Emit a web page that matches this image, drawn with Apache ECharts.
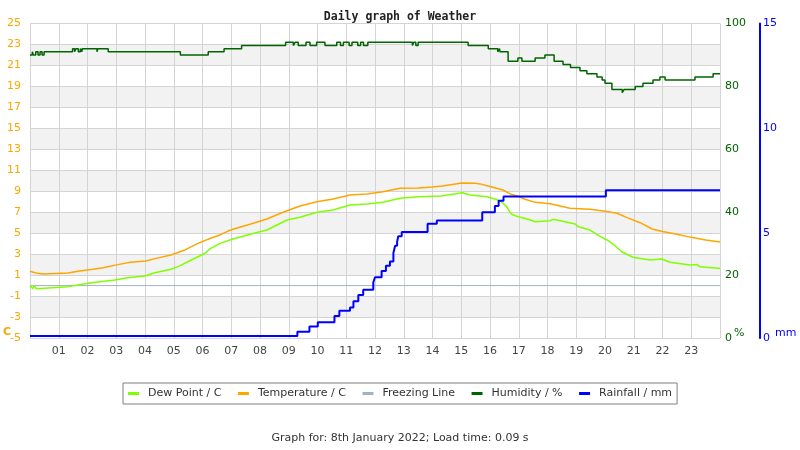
<!DOCTYPE html>
<html>
<head>
<meta charset="utf-8">
<script src="https://cdn.jsdelivr.net/npm/echarts@6/dist/echarts.min.js"></script>
<style>html,body{margin:0;padding:0;background:#fff}#c{width:800px;height:450px}</style>
</head>
<body>
<div id="c"></div>
<script>
// ---- data (time in hours of day) ----
const hourLabels = ['01','02','03','04','05','06','07','08','09','10','11','12','13','14','15','16','17','18','19','20','21','22','23'];
const tempTicks = [-5,-3,-1,1,3,5,7,9,11,13,15,17,19,21,23,25];
const humidityTicks = [0,20,40,60,80,100];
const rainTicks = [0,5,10,15];

const temperature = [[0,1.36],[0.21,1.2],[0.45,1.1],[1.32,1.2],[1.67,1.36],[2.19,1.55],[2.54,1.7],[3.06,2.0],[3.48,2.22],[4.03,2.35],[4.35,2.57],[4.9,2.92],[5.39,3.4],[5.84,4.03],[6.3,4.54],[6.61,4.83],[6.89,5.2],[7.06,5.37],[7.65,5.85],[8.24,6.35],[8.8,6.99],[9.39,7.59],[9.98,8.0],[10.54,8.26],[11.13,8.64],[11.72,8.74],[12.28,8.96],[12.87,9.28],[13.5,9.3],[14.0,9.4],[14.35,9.5],[14.8,9.7],[15.0,9.78],[15.5,9.75],[15.65,9.7],[16.0,9.45],[16.45,9.12],[16.7,8.74],[16.95,8.55],[17.22,8.23],[17.57,7.94],[18.09,7.81],[18.78,7.37],[19.48,7.28],[20.0,7.1],[20.42,6.9],[20.77,6.48],[21.22,6.0],[21.64,5.4],[22.0,5.15],[22.5,4.9],[23.0,4.6],[23.5,4.35],[24,4.15]];

const dewPoint = [[0,0.0],[0.1,-0.3],[0.15,0.0],[0.22,-0.3],[0.28,-0.16],[1.32,-0.1],[1.67,0.06],[2.02,0.22],[2.42,0.37],[2.95,0.53],[3.41,0.75],[3.99,0.91],[4.34,1.23],[4.91,1.55],[5.22,1.9],[5.61,2.44],[5.88,2.8],[6.09,3.08],[6.26,3.5],[6.61,4.03],[7.06,4.45],[7.65,4.89],[8.24,5.3],[8.94,6.26],[9.39,6.51],[9.98,6.99],[10.54,7.21],[11.13,7.69],[11.72,7.78],[12.28,7.94],[12.87,8.33],[13.5,8.48],[14.3,8.55],[14.8,8.75],[15.05,8.86],[15.3,8.64],[15.9,8.48],[16.2,8.23],[16.4,8.0],[16.58,7.53],[16.7,6.95],[16.81,6.73],[17.05,6.51],[17.33,6.32],[17.57,6.09],[18.09,6.19],[18.2,6.32],[18.61,6.09],[18.96,5.87],[19.07,5.62],[19.48,5.3],[19.83,4.7],[20.07,4.35],[20.35,3.8],[20.58,3.23],[20.97,2.7],[21.56,2.44],[21.97,2.54],[22.26,2.22],[22.96,1.96],[23.2,2.0],[23.3,1.8],[23.94,1.65],[24,1.65]];

const freezing = [[0,0],[24,0]];

const humidity = [[0,90],[0.08,91],[0.12,90],[0.2,91],[0.28,90],[0.35,91],[0.42,90],[0.49,91],[1.48,92],[1.55,91],[1.6,92],[1.68,91],[1.75,92],[1.8,91],[1.82,92],[2.33,91],[2.36,92],[2.72,91],[5.23,90],[6.2,91],[6.75,92],[7.36,93],[8.89,94],[9.16,93],[9.22,94],[9.33,93],[9.6,94],[9.74,93],[9.97,94],[10.26,93],[10.67,94],[10.8,93],[10.9,94],[11.1,93],[11.2,94],[11.4,93],[11.5,94],[11.6,93],[11.75,94],[13.3,93],[13.35,94],[13.42,93],[13.5,94],[15.24,93],[15.94,92],[16.27,91],[16.33,92],[16.35,91],[16.63,88],[16.97,89],[17.11,88],[17.57,89],[17.91,90],[18.23,88],[18.54,87],[18.8,86],[19.13,85],[19.37,84],[19.72,83],[19.9,82],[20.0,81],[20.24,79],[20.6,78],[20.66,79],[21.05,80],[21.32,81],[21.67,82],[21.91,83],[22.09,82],[23.13,83],[23.76,84],[24,84]];

const rainfall = [[0,0.1],[9.3,0.3],[9.72,0.55],[10.01,0.75],[10.59,1.05],[10.76,1.3],[11.13,1.45],[11.25,1.75],[11.42,2.05],[11.59,2.3],[11.94,2.65],[12.0,2.9],[12.23,3.2],[12.38,3.45],[12.52,3.65],[12.64,4.05],[12.7,4.4],[12.77,4.6],[12.81,4.85],[12.93,5.05],[13.83,5.45],[14.15,5.6],[15.73,6.0],[16.17,6.3],[16.3,6.55],[16.47,6.75],[20.03,7.05],[24,7.05]];

const seriesNames = ['Dew Point / C','Temperature / C','Freezing Line','Humidity / %','Rainfall / mm'];
const seriesColors = ['#7fff00','#ffa500','#a2b2c6','#006400','#0000ff'];

// ---- chart ----
const FONT = 'DejaVu Sans';
const chart = echarts.init(document.getElementById('c'), null, {renderer:'canvas'});

chart.setOption({
  animation: false,
  backgroundColor: '#ffffff',
  title: {
    text: 'Daily graph of Weather',
    left: 'center', top: 6,
    textStyle: {fontFamily: 'DejaVu Sans Mono', fontWeight: 'bold', fontSize: 11.5, color: '#222'}
  },
  grid: {left: 30, right: 80, top: 23.5, bottom: 112, containLabel: false},
  legend: {
    left: 123, top: 383,
    orient: 'horizontal',
    icon: 'rect', itemWidth: 11, itemHeight: 3, itemGap: 16.5,
    borderColor: '#808080', borderWidth: 1, borderRadius: 0,
    padding: [5, 5, 5, 5],
    selectedMode: false,
    textStyle: {fontFamily: FONT, fontSize: 11, color: '#333', padding: [0, 0, 0, 4]},
    data: seriesNames
  },
  xAxis: {
    type: 'value', min: 0, max: 24, interval: 1,
    axisLine: {show: false}, axisTick: {show: false},
    axisLabel: {
      margin: 8, fontFamily: FONT, fontSize: 11, color: '#444',
      formatter: v => (v >= 1 && v <= 23) ? hourLabels[v - 1] : ''
    },
    splitLine: {show: true, lineStyle: {color: '#d4d4d4', width: 1}}
  },
  yAxis: [
    {
      type: 'value', min: tempTicks[0], max: tempTicks[tempTicks.length - 1], interval: 2,
      position: 'left',
      axisLine: {show: false}, axisTick: {show: false},
      axisLabel: {margin: 9, fontFamily: FONT, fontSize: 11, color: '#ffa500'},
      splitLine: {show: true, lineStyle: {color: '#d4d4d4', width: 1}},
      splitArea: {show: true, areaStyle: {color: ['rgba(255,255,255,0)', '#f2f2f2']}}
    },
    {
      type: 'value', min: humidityTicks[0], max: humidityTicks[humidityTicks.length - 1], interval: 20,
      position: 'right',
      axisLine: {show: false}, axisTick: {show: false},
      axisLabel: {margin: 5, fontFamily: FONT, fontSize: 11, color: '#006400'},
      splitLine: {show: false}
    },
    {
      type: 'value', min: rainTicks[0], max: rainTicks[rainTicks.length - 1], interval: 5,
      position: 'right', offset: 40,
      axisLine: {show: true, lineStyle: {color: '#0000ff', width: 2}}, axisTick: {show: false},
      axisLabel: {margin: 3, fontFamily: FONT, fontSize: 11, color: '#0000ff'},
      splitLine: {show: false}
    }
  ],
  graphic: [
    {type: 'text', left: 3, top: 327, style: {text: 'C', fontFamily: FONT, fontWeight: 'bold', fontSize: 11, fill: '#ffa500'}},
    {type: 'text', left: 734, top: 328, style: {text: '%', fontFamily: FONT, fontSize: 11, fill: '#006400'}},
    {type: 'text', left: 775, top: 328, style: {text: 'mm', fontFamily: FONT, fontSize: 11, fill: '#0000ff'}},
    {type: 'text', left: 'center', top: 433, style: {text: 'Graph for: 8th January 2022; Load time: 0.09 s', fontFamily: FONT, fontSize: 11, fill: '#333'}}
  ],
  series: [
    {name: seriesNames[0], type: 'line', yAxisIndex: 0, data: dewPoint, showSymbol: false, symbol: 'none',
     color: seriesColors[0], lineStyle: {color: seriesColors[0], width: 1.5}, z: 3},
    {name: seriesNames[1], type: 'line', yAxisIndex: 0, data: temperature, showSymbol: false, symbol: 'none',
     color: seriesColors[1], lineStyle: {color: seriesColors[1], width: 1.5}, z: 3},
    {name: seriesNames[2], type: 'line', yAxisIndex: 0, data: freezing, showSymbol: false, symbol: 'none',
     color: seriesColors[2], lineStyle: {color: seriesColors[2], width: 1}, z: 2},
    {name: seriesNames[3], type: 'line', yAxisIndex: 1, data: humidity, step: 'end', showSymbol: false, symbol: 'none',
     color: seriesColors[3], lineStyle: {color: seriesColors[3], width: 1.5}, z: 3},
    {name: seriesNames[4], type: 'line', yAxisIndex: 2, data: rainfall, step: 'end', showSymbol: false, symbol: 'none',
     color: seriesColors[4], lineStyle: {color: seriesColors[4], width: 2}, z: 4}
  ]
});
</script>
</body>
</html>
